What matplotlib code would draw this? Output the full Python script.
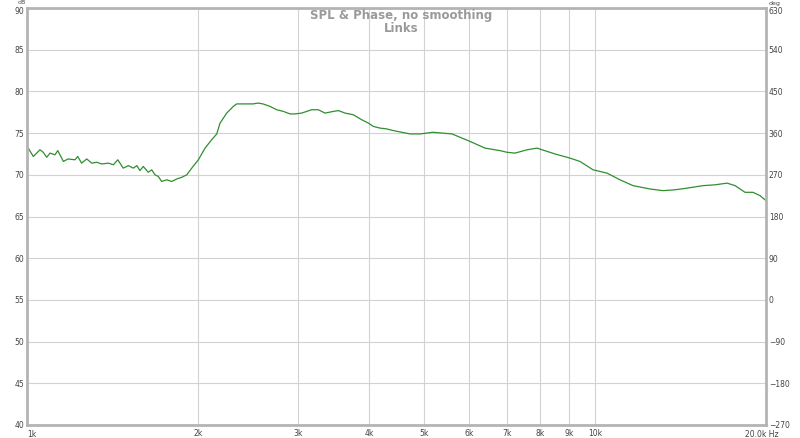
import matplotlib.pyplot as plt
import numpy as np
import matplotlib.transforms as mtransforms
from matplotlib.ticker import FixedLocator, NullLocator

freq = [1000, 1005, 1026, 1054, 1068, 1083, 1098, 1120, 1133, 1159, 1181,
        1215, 1228, 1248, 1274, 1300, 1327, 1354, 1391, 1419, 1445, 1477,
        1508, 1539, 1561, 1581, 1602, 1635, 1658, 1680, 1703, 1726, 1762,
        1798, 1835, 1873, 1911, 1950, 2003, 2058, 2114, 2158, 2187, 2247,
        2308, 2340, 2401, 2500, 2551, 2603, 2678, 2752, 2827, 2904, 2964,
        3045, 3171, 3258, 3346, 3462, 3533, 3630, 3754, 3884, 3990, 4072,
        4184, 4300, 4416, 4724, 4920, 5185, 5601, 6026, 6403, 6802, 7000,
        7231, 7592, 7906, 8068, 8504, 9036, 9410, 9920, 10498, 11066, 11666,
        12498, 13174, 13831, 14521, 15495, 16269, 17081, 17645, 18370,
        18975, 19520, 20000]
spl = [73.0, 73.2, 72.2, 73.0, 72.7, 72.1, 72.6, 72.4, 72.9, 71.6, 71.9,
       71.8, 72.2, 71.4, 71.9, 71.4, 71.5, 71.3, 71.4, 71.2, 71.8, 70.8,
       71.1, 70.8, 71.1, 70.5, 71.0, 70.3, 70.6, 70.0, 69.8, 69.2, 69.4,
       69.2, 69.5, 69.7, 70.0, 70.8, 71.8, 73.2, 74.2, 74.9, 76.2, 77.4,
       78.2, 78.5, 78.5, 78.5, 78.6, 78.5, 78.2, 77.8, 77.6, 77.3, 77.3,
       77.4, 77.8, 77.8, 77.4, 77.6, 77.7, 77.4, 77.2, 76.6, 76.2, 75.8,
       75.6, 75.5, 75.3, 74.9, 74.9, 75.1, 74.9, 74.0, 73.2, 72.9, 72.7,
       72.6, 73.0, 73.2, 73.0, 72.5, 72.0, 71.6, 70.6, 70.2, 69.4, 68.7,
       68.3, 68.1, 68.2, 68.4, 68.7, 68.8, 69.0, 68.7, 67.9, 67.9, 67.5,
       66.9]

x_ticks = [2000, 3000, 4000, 5000, 6000, 7000, 8000, 9000, 10000]
x_tick_labels = ['2k', '3k', '4k', '5k', '6k', '7k', '8k', '9k', '10k']
db_ticks = [40, 45, 50, 55, 60, 65, 70, 75, 80, 85, 90]
deg_ticks = [-270, -180, -90, 0, 90, 180, 270, 360, 450, 540, 630]

label_color = '#444444'
frame_color = '#b4b4b4'
grid_color = '#d2d2d2'
fs = 5.5

fig = plt.figure(figsize=(8, 4.38), dpi=100)
ax = fig.add_axes([27 / 800, 13 / 438, 739 / 800, 417 / 438])

ax.plot(freq, spl, color='#2f8f2f', linewidth=0.9)

ax.set_xscale('log')
ax.set_xlim(1000, 20000)
ax.set_ylim(40, 90)
ax.xaxis.set_major_locator(FixedLocator(x_ticks))
ax.xaxis.set_minor_locator(NullLocator())
ax.set_xticklabels(x_tick_labels)
ax.yaxis.set_major_locator(FixedLocator(db_ticks))
ax.tick_params(axis='both', length=0, labelsize=fs, colors=label_color, pad=2)
ax.tick_params(axis='x', pad=3)
ax.grid(True, color=grid_color, linewidth=0.8)
for s in ax.spines.values():
    s.set_color(frame_color)
    s.set_linewidth(2)

# end labels of the frequency axis
ax.text(1000, -0.012, '1k', transform=ax.get_xaxis_transform(), ha='left',
        va='top', fontsize=fs, color=label_color)
ax.text(19700, -0.012, '20.0k Hz', transform=ax.get_xaxis_transform(),
        ha='center', va='top', fontsize=fs, color=label_color)

ax2 = ax.twinx()
ax2.set_ylim(-270, 630)
ax2.yaxis.set_major_locator(FixedLocator(deg_ticks))
ax2.tick_params(axis='y', length=0, labelsize=fs, colors=label_color, pad=2)
for s in ax2.spines.values():
    s.set_visible(False)

# nudge the topmost tick labels down a little, to make room for the units
nudge = mtransforms.ScaledTranslation(0, -2 / 72, fig.dpi_scale_trans)
fig.canvas.draw()
for a in (ax, ax2):
    labels = a.get_yticklabels()
    labels[-1].set_transform(labels[-1].get_transform() + nudge)

fig.text(22 / 800, 1 - 3 / 438, 'dB', ha='center', va='center',
         fontsize=4.5, color=label_color)
fig.text(775 / 800, 1 - 3 / 438, 'deg', ha='center', va='center',
         fontsize=4.5, color=label_color)

fig.text(0.502, 0.965, 'SPL & Phase, no smoothing', ha='center', va='center',
         fontsize=8.5, fontweight='bold', color='#9a9a9a')
fig.text(0.502, 0.934, 'Links', ha='center', va='center',
         fontsize=8.5, fontweight='bold', color='#9a9a9a')

fig.savefig('out.png', dpi=100, facecolor='white')
